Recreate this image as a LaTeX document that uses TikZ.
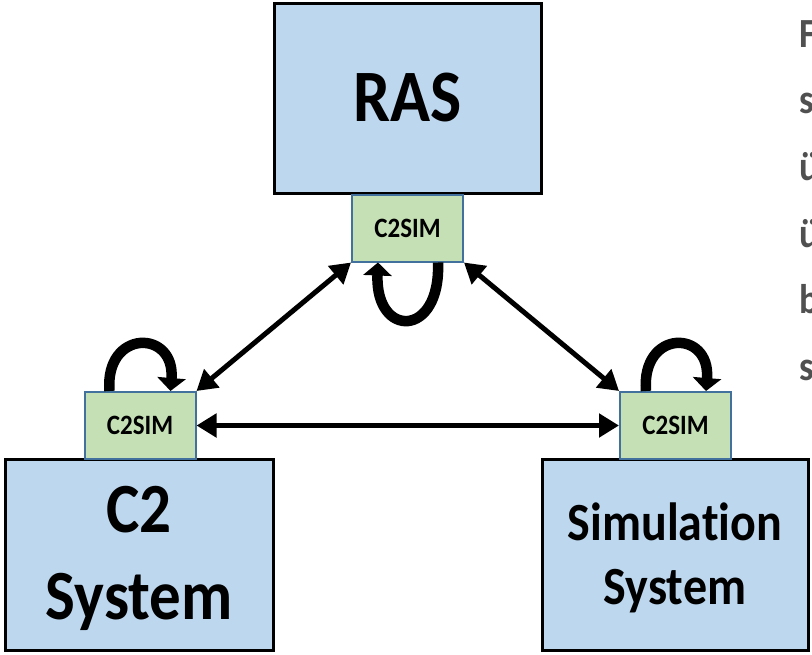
\documentclass[tikz,border=0pt]{standalone}
\usepackage{fontspec}
\setmainfont[Ligatures=NoCommon]{Carlito}
\usetikzlibrary{arrows.meta}
\definecolor{sysblue}{HTML}{BDD7EE}
\definecolor{ifgreen}{HTML}{C5E0B4}
\definecolor{ifedge}{HTML}{41719C}
\definecolor{sidegray}{HTML}{505050}
% bold text, slightly stretched upright
\newcommand{\tall}[1]{\scalebox{1}[1.12]{#1}}
\newcommand{\twolines}[3]{\raisebox{-6pt}[\height][\depth]{\tall{\begin{tabular}{@{}c@{}}#1\\[#3]#2\end{tabular}}}}
\tikzset{
  sysbox/.style={draw=black, line width=3pt, fill=sysblue, inner sep=0pt,
    align=center, font=\bfseries},
  ifbox/.style={draw=ifedge, line width=2pt, fill=ifgreen, inner sep=0pt,
    minimum width=111pt, minimum height=67pt, font=\fontsize{25}{28}\selectfont\bfseries},
  link/.style={line width=5pt, {Triangle[length=20pt,width=23pt]}-{Triangle[length=20pt,width=23pt]}},
  selfloop/.style={line width=10.5pt, -{Triangle[length=13pt,width=28pt]}},
  sideletter/.style={anchor=base west, inner sep=0pt, text=sidegray,
    font=\fontsize{37}{40}\selectfont\bfseries}
}
\begin{document}
\begin{tikzpicture}[x=1pt,y=-1pt]
\useasboundingbox (0,0) rectangle (812,654);

% system boxes
\node[sysbox, minimum width=267pt, minimum height=190pt,
  font=\fontsize{66}{70}\selectfont\bfseries] (ras) at (407.5,98) {\tall{RAS}};
\node[sysbox, minimum width=268pt, minimum height=191pt,
  font=\fontsize{63}{68}\selectfont\bfseries] (c2) at (139,555) {\twolines{C2}{System}{10pt}};
\node[sysbox, minimum width=266pt, minimum height=191pt,
  font=\fontsize{48}{52}\selectfont\bfseries] (sim) at (675,555) {\twolines{Simulation}{System}{5pt}};

% C2SIM interfaces
\node[ifbox] (rasc) at (407.5,228) {\tall{C2SIM}};
\node[ifbox] (c2c) at (140,425.5) {\tall{C2SIM}};
\node[ifbox] (simc) at (675.5,425.5) {\tall{C2SIM}};

% links between interfaces
\draw[link] (rasc.south west) -- (c2c.north east);
\draw[link] (rasc.south east) -- (simc.north west);
\draw[link] (c2c.east) -- (simc.west);

% self loops
\draw[selfloop] ([xshift=-26pt]rasc.south east)
  .. controls +(3,76) and +(-3,76) .. ([xshift=27pt]rasc.south west);
\draw[selfloop] ([xshift=26pt]c2c.north west)
  .. controls +(-5,-62) and +(5,-62) .. ([xshift=-26pt]c2c.north east);
\draw[selfloop] ([xshift=27pt]simc.north west)
  .. controls +(-5,-62) and +(5,-62) .. ([xshift=-26pt]simc.north east);

% text running off the right edge
\node[sideletter] (l1) at (799,47) {\tall{F}};
\node[sideletter] (l2) at (799,113) {\tall{s}};
\node[sideletter] (l3) at (799,180) {\tall{ü}};
\node[sideletter] (l4) at (799,247) {\tall{ü}};
\node[sideletter] (l5) at (799,313) {\tall{b}};
\node[sideletter] (l6) at (799,380) {\tall{s}};
\end{tikzpicture}
\end{document}
